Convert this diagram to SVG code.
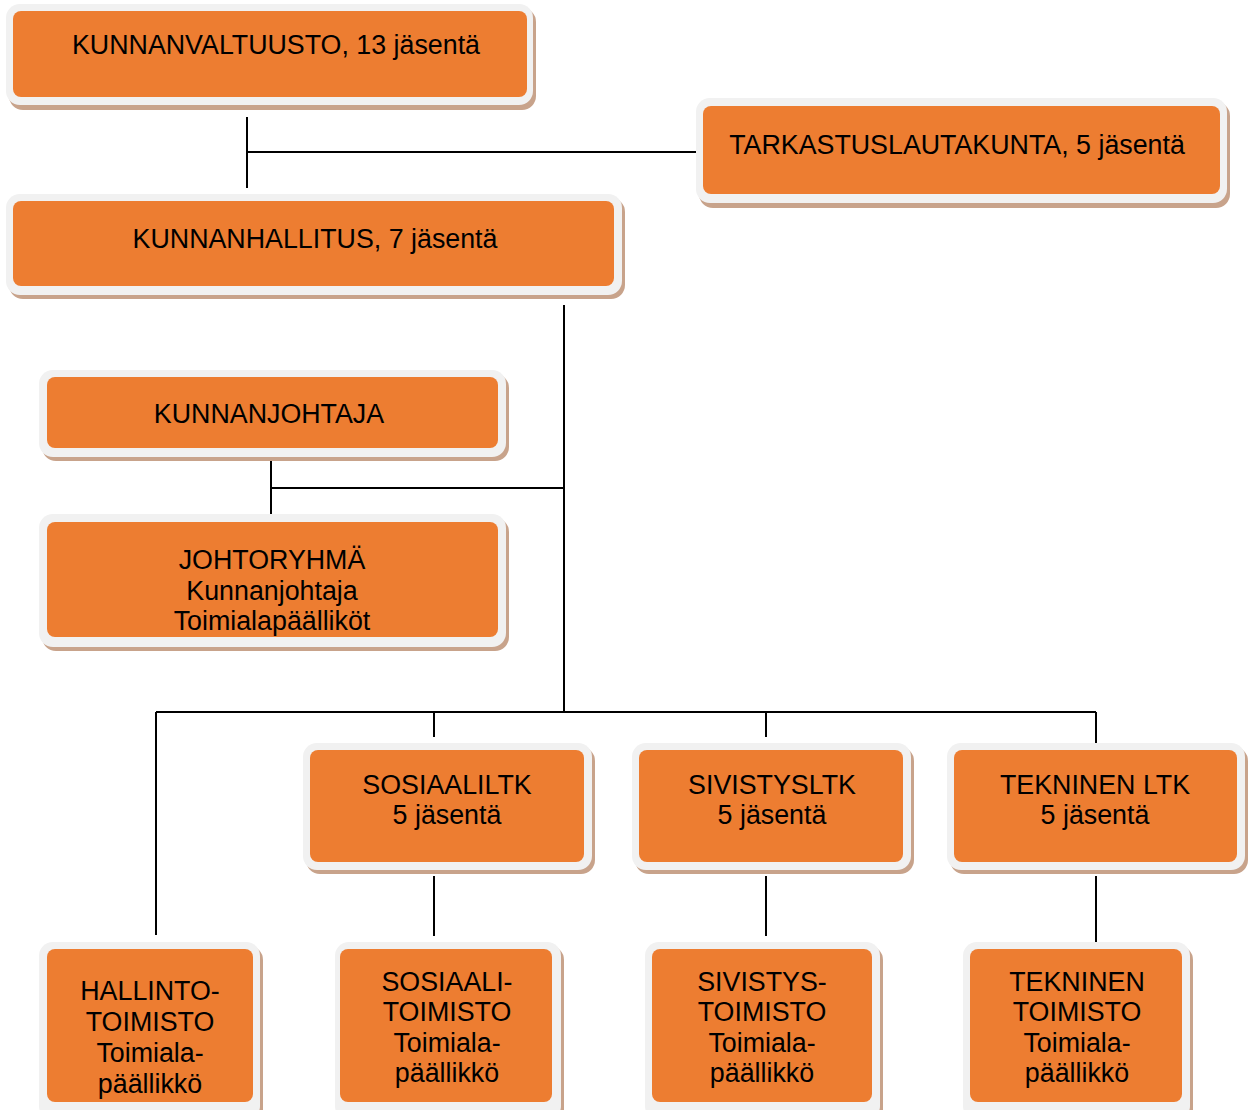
<svg xmlns="http://www.w3.org/2000/svg" width="1249" height="1110" viewBox="0 0 1249 1110">
<style>
.sh{fill:#c8a38b}
.fr{fill:#f1f1f1}
.bx{fill:#ED7D31}
.t{font-family:"Liberation Sans",Arial,sans-serif;font-size:26.8px;fill:#000;text-anchor:middle}
.c{stroke:#000;stroke-width:2;fill:none}
</style>
<rect width="1249" height="1110" fill="#fff"/>
<g id="connectors">
<path class="c" d="M247 117V188M247 152H697"/>
<path class="c" d="M564 305V712M271 488H564M271 461V516"/>
<path class="c" d="M156 712H1096M156 712V935M434 712V737M766 712V737M1096 712V745"/>
<path class="c" d="M434 876V936M766 876V936M1096 876V943"/>
</g>
<g id="kunnanvaltuusto">
<rect class="sh" x="9" y="8" width="527" height="102" rx="14"/>
<rect class="fr" x="6" y="4" width="527" height="101" rx="14"/>
<rect class="bx" x="13" y="11" width="514" height="86" rx="8"/>
<text class="t" x="276" y="54">KUNNANVALTUUSTO, 13 jäsentä</text>
</g>
<g id="tarkastuslautakunta">
<rect class="sh" x="699" y="102" width="531" height="106" rx="14"/>
<rect class="fr" x="696" y="98" width="531" height="105" rx="14"/>
<rect class="bx" x="703" y="106" width="517" height="88" rx="8"/>
<text class="t" x="957" y="154">TARKASTUSLAUTAKUNTA, 5 jäsentä</text>
</g>
<g id="kunnanhallitus">
<rect class="sh" x="9" y="198" width="616" height="101" rx="14"/>
<rect class="fr" x="6" y="194" width="616" height="101" rx="14"/>
<rect class="bx" x="13" y="201" width="601" height="85" rx="8"/>
<text class="t" x="315" y="248">KUNNANHALLITUS, 7 jäsentä</text>
</g>
<g id="kunnanjohtaja">
<rect class="sh" x="42" y="374" width="467" height="87" rx="14"/>
<rect class="fr" x="39" y="370" width="467" height="87" rx="14"/>
<rect class="bx" x="47" y="377" width="451" height="71" rx="8"/>
<text class="t" x="269" y="423">KUNNANJOHTAJA</text>
</g>
<g id="johtoryhma">
<rect class="sh" x="42" y="518" width="467" height="133" rx="14"/>
<rect class="fr" x="39" y="514" width="467" height="133" rx="14"/>
<rect class="bx" x="47" y="522" width="451" height="115" rx="8"/>
<text class="t" x="272" y="569">JOHTORYHMÄ</text>
<text class="t" x="272" y="600">Kunnanjohtaja</text>
<text class="t" x="272" y="630">Toimialapäälliköt</text>
</g>
<g id="sosiaaliltk">
<rect class="sh" x="306" y="747" width="289" height="127" rx="14"/>
<rect class="fr" x="303" y="743" width="289" height="127" rx="14"/>
<rect class="bx" x="310" y="750" width="274" height="112" rx="8"/>
<text class="t" x="447" y="794">SOSIAALILTK</text>
<text class="t" x="447" y="824">5 jäsentä</text>
</g>
<g id="sivistysltk">
<rect class="sh" x="635" y="747" width="279" height="127" rx="14"/>
<rect class="fr" x="632" y="743" width="279" height="127" rx="14"/>
<rect class="bx" x="639" y="750" width="264" height="112" rx="8"/>
<text class="t" x="772" y="794">SIVISTYSLTK</text>
<text class="t" x="772" y="824">5 jäsentä</text>
</g>
<g id="tekninenltk">
<rect class="sh" x="950" y="747" width="298" height="127" rx="14"/>
<rect class="fr" x="947" y="743" width="298" height="127" rx="14"/>
<rect class="bx" x="954" y="750" width="283" height="112" rx="8"/>
<text class="t" x="1095" y="794">TEKNINEN LTK</text>
<text class="t" x="1095" y="824">5 jäsentä</text>
</g>
<g id="hallintotoimisto">
<rect class="sh" x="42" y="946" width="221" height="180" rx="14"/>
<rect class="fr" x="39" y="942" width="221" height="178" rx="14"/>
<rect class="bx" x="47" y="949" width="206" height="153" rx="8"/>
<text class="t" x="150" y="1000">HALLINTO-</text>
<text class="t" x="150" y="1031">TOIMISTO</text>
<text class="t" x="150" y="1062">Toimiala-</text>
<text class="t" x="150" y="1093">päällikkö</text>
</g>
<g id="sosiaalitoimisto">
<rect class="sh" x="338" y="946" width="226" height="180" rx="14"/>
<rect class="fr" x="335" y="942" width="226" height="178" rx="14"/>
<rect class="bx" x="340" y="949" width="212" height="153" rx="8"/>
<text class="t" x="447" y="991">SOSIAALI-</text>
<text class="t" x="447" y="1021">TOIMISTO</text>
<text class="t" x="447" y="1052">Toimiala-</text>
<text class="t" x="447" y="1082">päällikkö</text>
</g>
<g id="sivistystoimisto">
<rect class="sh" x="648" y="946" width="235" height="180" rx="14"/>
<rect class="fr" x="645" y="942" width="235" height="178" rx="14"/>
<rect class="bx" x="652" y="949" width="220" height="153" rx="8"/>
<text class="t" x="762" y="991">SIVISTYS-</text>
<text class="t" x="762" y="1021">TOIMISTO</text>
<text class="t" x="762" y="1052">Toimiala-</text>
<text class="t" x="762" y="1082">päällikkö</text>
</g>
<g id="tekninentoimisto">
<rect class="sh" x="966" y="946" width="227" height="180" rx="14"/>
<rect class="fr" x="963" y="942" width="227" height="178" rx="14"/>
<rect class="bx" x="970" y="949" width="212" height="153" rx="8"/>
<text class="t" x="1077" y="991">TEKNINEN</text>
<text class="t" x="1077" y="1021">TOIMISTO</text>
<text class="t" x="1077" y="1052">Toimiala-</text>
<text class="t" x="1077" y="1082">päällikkö</text>
</g>
</svg>
